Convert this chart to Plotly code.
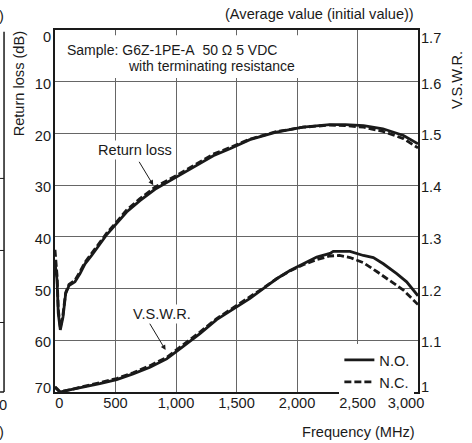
import plotly.graph_objects as go

# ---- data ----
rl_no_f = [0, 17, 27, 44, 66, 88, 116, 165, 207, 248, 303, 360, 430, 510, 592, 702, 826, 1006,
           1143, 1308, 1450, 1530, 1610, 1820, 2050, 2270, 2400, 2550, 2710, 2880, 3000]
rl_no_db = [44.9, 48.4, 54.8, 58.0, 55.5, 51.0, 49.4, 48.7, 47.1, 45.2, 43.6, 41.8, 39.5, 37.4, 35.2,
            33.0, 30.8, 28.4, 26.5, 24.3, 22.9, 22.0, 21.2, 19.8, 18.8, 18.3, 18.3, 18.5, 19.1, 20.4, 22.0]
rl_nc_f = rl_no_f
rl_nc_db = [42.5, 47.5, 54.0, 57.5, 55.0, 50.8, 49.2, 48.4, 46.7, 44.9, 43.2, 41.5, 39.2, 37.1, 34.8,
            32.6, 30.4, 28.1, 26.2, 24.0, 22.7, 21.9, 21.1, 19.7, 18.8, 18.4, 18.5, 18.8, 19.6, 21.0, 22.8]

vs_no_f = [0, 20, 40, 100, 230, 370, 510, 645, 785, 923, 1060, 1198, 1336, 1502, 1612, 1721, 1832,
           1942, 2052, 2163, 2273, 2300, 2438, 2465, 2548, 2631, 2713, 2824, 2906, 3000]
vs_no = [1.009, 1.004, 1.000, 1.003, 1.009, 1.016, 1.024, 1.035, 1.048, 1.064, 1.088, 1.113, 1.140,
         1.165, 1.181, 1.200, 1.219, 1.235, 1.248, 1.261, 1.268, 1.272, 1.272, 1.270, 1.264, 1.260,
         1.248, 1.229, 1.213, 1.186]
vs_nc_f = [0, 20, 40, 100, 230, 370, 510, 645, 785, 923, 1060, 1198, 1336, 1502, 1612, 1721, 1832,
           1942, 2052, 2163, 2273, 2350, 2438, 2548, 2659, 2768, 2879, 3000]
vs_nc = [1.010, 1.005, 1.001, 1.003, 1.010, 1.017, 1.026, 1.037, 1.051, 1.067, 1.091, 1.116, 1.142,
         1.167, 1.183, 1.201, 1.219, 1.234, 1.246, 1.256, 1.263, 1.264, 1.260, 1.250, 1.233, 1.216,
         1.197, 1.169]

x_ticks = [36, 500, 1000, 1500, 2000, 2500, 2901]
x_labels = ["0", "500", "1,000", "1,500", "2,000", "2,500", "3,000"]
rl_ticks = [1.26, 10.34, 20.4, 30.35, 40.35, 50.35, 60.3, 69.2]
rl_labels = ["0", "10", "20", "30", "40", "50", "60", "70"]
vs_ticks = [1.6855, 1.5965, 1.4965, 1.3965, 1.2965, 1.1965, 1.0965, 1.0097]
vs_labels = ["1.7", "1.6", "1.5", "1.4", "1.3", "1.2", "1.1", "1"]

FONT = "Liberation Sans, Arial, sans-serif"
INK = "#1a1a1a"
GRID = "#666666"
DASH = "7px,3px"
TS = 14.6   # tick / title text size
LW = 2.8

fig = go.Figure()
fig.add_trace(go.Scatter(x=rl_no_f, y=rl_no_db, mode="lines", name="N.O.",
                         line=dict(color=INK, width=LW), legendgroup="no",
                         xaxis="x", yaxis="y"))
fig.add_trace(go.Scatter(x=rl_nc_f, y=rl_nc_db, mode="lines", name="N.C.",
                         line=dict(color=INK, width=LW, dash=DASH), legendgroup="nc",
                         xaxis="x", yaxis="y"))
fig.add_trace(go.Scatter(x=vs_no_f, y=vs_no, mode="lines", name="N.O.", showlegend=False,
                         line=dict(color=INK, width=LW), legendgroup="no",
                         xaxis="x", yaxis="y2"))
fig.add_trace(go.Scatter(x=vs_nc_f, y=vs_nc, mode="lines", name="N.C.", showlegend=False,
                         line=dict(color=INK, width=LW, dash=DASH), legendgroup="nc",
                         xaxis="x", yaxis="y2"))
# carriers for the label-only axes
fig.add_trace(go.Scatter(x=[], y=[], xaxis="x2", yaxis="y3", showlegend=False, hoverinfo="skip"))
fig.add_trace(go.Scatter(x=[], y=[], xaxis="x2", yaxis="y4", showlegend=False, hoverinfo="skip"))

tickfont = dict(family=FONT, size=TS, color=INK)

fig.update_layout(
    width=472, height=443,
    margin=dict(l=55, r=54, t=30, b=51),
    paper_bgcolor="white", plot_bgcolor="white",
    font=dict(family=FONT, size=14, color=INK),
    showlegend=True,
    legend=dict(x=0.99, xanchor="right", y=0.133, yanchor="top", bgcolor="white",
                font=dict(family=FONT, size=TS, color=INK), tracegroupgap=0,
                itemwidth=30),
    xaxis=dict(range=[0, 3000], tickvals=[500, 1000, 1500, 2000, 2500], showticklabels=False,
               showgrid=True, gridcolor=GRID, gridwidth=1, zeroline=False, ticks="",
               showline=True, linecolor=INK, linewidth=1.5, mirror=True, automargin=False),
    yaxis=dict(range=[70, 0], tickvals=[10, 20, 30, 40, 50, 60], showticklabels=False,
               showgrid=True, gridcolor=GRID, gridwidth=1, zeroline=False, ticks="",
               showline=True, linecolor=INK, linewidth=1.5, mirror=True, automargin=False),
    yaxis2=dict(range=[1, 1.7], overlaying="y", side="right", anchor="x", showgrid=False,
                showticklabels=False, zeroline=False, showline=False, ticks="", automargin=False),
    xaxis2=dict(range=[0, 3000], overlaying="x", side="bottom", anchor="y", showgrid=False,
                zeroline=False, showline=False, ticks="", tickvals=x_ticks, ticktext=x_labels,
                tickfont=tickfont, automargin=False),
    yaxis3=dict(range=[70, 0], overlaying="y", side="left", anchor="x", showgrid=False,
                zeroline=False, showline=False, ticks="", tickvals=rl_ticks, ticktext=rl_labels,
                tickfont=tickfont, ticklabelstandoff=3, automargin=False),
    yaxis4=dict(range=[1, 1.7], overlaying="y", side="right", anchor="x", showgrid=False,
                zeroline=False, showline=False, ticks="", tickvals=vs_ticks, ticktext=vs_labels,
                tickfont=tickfont, ticklabelstandoff=2, automargin=False),
)

# white box behind the sample description
fig.add_shape(type="rect", xref="x", yref="y", x0=40, x1=2085, y0=1.0, y1=9.3,
              fillcolor="white", line=dict(width=0), layer="between")

ann = []
ann.append(dict(text="Return loss (dB)", xref="paper", yref="paper", x=-0.098, y=0.851,
                textangle=-90, showarrow=False, xanchor="center", yanchor="middle",
                font=dict(size=TS)))
ann.append(dict(text="V.S.W.R.", xref="paper", yref="paper", x=1.109, y=0.861,
                textangle=-90, showarrow=False, xanchor="center", yanchor="middle",
                font=dict(size=TS)))
ann.append(dict(text="Frequency (MHz)", xref="paper", yref="paper", x=0.997, y=-0.110,
                showarrow=False, xanchor="right", yanchor="middle", font=dict(size=TS)))
ann.append(dict(text="(Average value (initial value))", xref="paper", yref="paper", x=0.9945,
                y=1.044, showarrow=False, xanchor="right", yanchor="middle", font=dict(size=TS)))
ann.append(dict(text="Sample: G6Z-1PE-A\u00a0\u00a050 \u03a9 5 VDC", xref="paper", yref="paper",
                x=0.0275, y=0.9453, showarrow=False, xanchor="left", yanchor="middle",
                font=dict(size=14)))
ann.append(dict(text="with terminating resistance", xref="paper", yref="paper",
                x=0.1954, y=0.9001, showarrow=False, xanchor="left", yanchor="middle",
                font=dict(size=14)))
ann.append(dict(text="Return loss", xref="paper", yref="paper", x=0.2216, y=0.6673,
                showarrow=False, xanchor="center", yanchor="middle", bgcolor="white",
                borderpad=1, font=dict(size=TS)))
ann.append(dict(text="V.S.W.R.", xref="paper", yref="paper", x=0.295, y=0.2165,
                showarrow=False, xanchor="center", yanchor="middle", bgcolor="white",
                borderpad=1, font=dict(size=TS)))
ann.append(dict(text="", xref="x", yref="y", x=812, y=30.0, axref="x", ayref="y", ax=688, ay=25.2,
                showarrow=True, arrowhead=2, arrowsize=1, arrowwidth=1, arrowcolor=INK,
                standoff=0, startstandoff=0))
ann.append(dict(text="", xref="x", yref="y", x=914, y=61.9, axref="x", ayref="y", ax=776, ay=56.5,
                showarrow=True, arrowhead=2, arrowsize=1, arrowwidth=1, arrowcolor=INK,
                standoff=0, startstandoff=0))
# fragments of the neighbouring chart at the left edge of the crop
ann.append(dict(text="0", xref="paper", yref="paper", x=-0.1266, y=-0.0367, showarrow=False,
                xanchor="right", yanchor="middle", font=dict(size=TS)))
ann.append(dict(text=")", xref="paper", yref="paper", x=-0.1349, y=-0.111, showarrow=False,
                xanchor="right", yanchor="middle", font=dict(size=TS)))
ann.append(dict(text=")", xref="paper", yref="paper", x=-0.1349, y=1.040, showarrow=False,
                xanchor="right", yanchor="middle", font=dict(size=TS)))
fig.update_layout(annotations=ann)

fig.add_shape(type="line", xref="paper", yref="paper", x0=-0.1404, x1=-0.1404, y0=0.0, y1=0.995,
              line=dict(color=INK, width=1.5))
fig.add_shape(type="line", xref="paper", yref="paper", x0=-0.1514, x1=-0.1404, y0=0.0, y1=0.0,
              line=dict(color=INK, width=1.5))
for yy in [0.590, 0.391, 0.192]:
    fig.add_shape(type="line", xref="paper", yref="paper", x0=-0.1514, x1=-0.1404, y0=yy, y1=yy,
                  line=dict(color=INK, width=1))

fig.write_html("out.html", config={"displayModeBar": False},
               post_script="document.body.style.margin='0';document.body.style.padding='0';")
